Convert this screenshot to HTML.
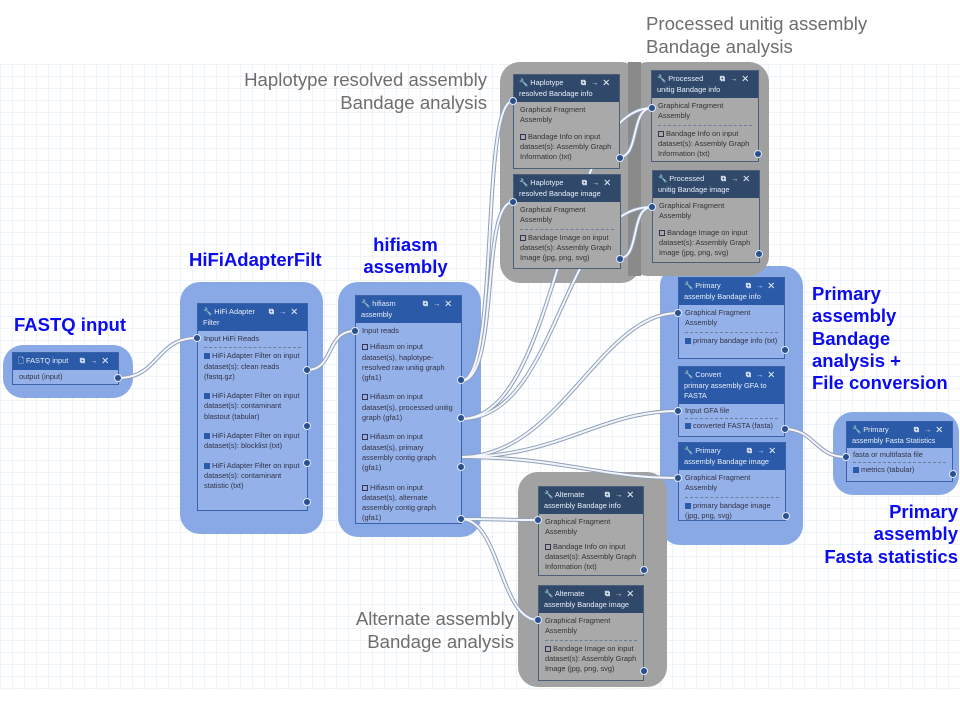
<!DOCTYPE html>
<html><head><meta charset="utf-8"><style>
*{box-sizing:border-box;margin:0;padding:0}
body{width:960px;height:720px;position:relative;overflow:hidden;background:#fff;font-family:"Liberation Sans",sans-serif}
.grid{position:absolute;left:0;top:64px;width:960px;height:626px;background-image:linear-gradient(#eef3fa 1px,transparent 1px),linear-gradient(90deg,#eef3fa 1px,transparent 1px);background-size:12px 12px}
.g{position:absolute;border-radius:20px}
.b{background:#88a8e6}
.gr{background:#a2a2a2}
.n{position:absolute;border:1px solid #3a62a8;font-size:7.4px;line-height:10.3px;color:#334;overflow:hidden}
.n.bn{background:#94b1ea}
.n.gn{background:#a9a9a9;border-color:#4a5f78;color:#333}
.h{color:#e8eef8;padding:3px 5px;font-size:7.4px;line-height:10.5px;position:relative}
.bn .h{background:#2a5aa8}
.gn .h{background:#30496a}
.h .ic{position:absolute;right:5px;top:3px;letter-spacing:5px;font-weight:bold}
.r{padding:2px 6px;position:relative}
.sep{border-top:1px dashed #6a7ea0;margin:1px 6px}
.cb{display:inline-block;width:6px;height:6px;border:1px solid #335;vertical-align:-1px;margin-right:2px}
.cb.on{background:#2a5aa8;border-color:#2a5aa8}
.p{position:absolute;width:8px;height:8px;border-radius:50%;background:#2a4f8f;border:1px solid #dfe8f8}
.lb{position:absolute;color:#0b0bf0;font-weight:bold;font-size:18.5px;line-height:22.3px}
.lg{position:absolute;color:#6e6e6e;font-size:18.6px;line-height:23px}
svg{position:absolute;left:0;top:0}
</style></head><body>
<div class="grid"></div>

<div class="g b" style="left:3px;top:345px;width:130px;height:53px"></div>
<div class="g b" style="left:180px;top:282px;width:143px;height:252px"></div>
<div class="g b" style="left:338px;top:282px;width:143px;height:255px"></div>
<div class="g b" style="left:660px;top:266px;width:143px;height:279px"></div>
<div class="g b" style="left:833px;top:412px;width:126px;height:83px"></div>
<div class="g gr" style="left:500px;top:62px;width:141px;height:221px"></div>
<div class="g gr" style="left:628px;top:62px;width:141px;height:214px;background:#a0a0a0"></div>
<div class="g gr" style="left:628px;top:62px;width:13px;height:214px;background:#8a8a8a;border-radius:0"></div>
<div class="g gr" style="left:518px;top:472px;width:149px;height:215px"></div>

<svg width="960" height="720">
<g fill="none" stroke="#8fa0bb" stroke-width="4">
<path d="M118 378 C160 378 155 338 197 338"/>
<path d="M307 370 C335 370 325 331 355 331"/>
<path d="M461 381 C500 381 480 101 513 101"/>
<path d="M461 381 C500 381 480 202 513 202"/>
<path d="M461 419 C560 419 560 108 652 108"/>
<path d="M461 419 C560 419 560 207 652 207"/>
<path d="M461 457 C560 457 600 313 678 313"/>
<path d="M461 457 C560 457 600 411 678 411"/>
<path d="M461 457 C560 457 600 478 678 478"/>
<path d="M461 519 C500 519 500 520 538 520"/>
<path d="M461 519 C500 519 500 620 538 620"/>
<path d="M784 429 C815 429 815 457 846 457"/>
<path d="M619 157 C640 157 630 108 652 108"/>
<path d="M620 258 C640 258 630 207 652 207"/>
</g>
<g fill="none" stroke="#f4f6fa" stroke-width="2">
<path d="M118 378 C160 378 155 338 197 338"/>
<path d="M307 370 C335 370 325 331 355 331"/>
<path d="M461 381 C500 381 480 101 513 101"/>
<path d="M461 381 C500 381 480 202 513 202"/>
<path d="M461 419 C560 419 560 108 652 108"/>
<path d="M461 419 C560 419 560 207 652 207"/>
<path d="M461 457 C560 457 600 313 678 313"/>
<path d="M461 457 C560 457 600 411 678 411"/>
<path d="M461 457 C560 457 600 478 678 478"/>
<path d="M461 519 C500 519 500 520 538 520"/>
<path d="M461 519 C500 519 500 620 538 620"/>
<path d="M784 429 C815 429 815 457 846 457"/>
<path d="M619 157 C640 157 630 108 652 108"/>
<path d="M620 258 C640 258 630 207 652 207"/>
</g>
</svg>

<!-- FASTQ -->
<div class="n bn" style="left:12px;top:352px;width:107px;height:33px">
<div class="h">🗋 FASTQ input<span class="ic">⧉→✕</span></div>
<div class="r">output (input)</div></div>
<div class="p" style="left:114px;top:374px"></div>

<!-- HiFi -->
<div class="n bn" style="left:197px;top:303px;width:111px;height:208px">
<div class="h">🔧 HiFi Adapter<br>Filter<span class="ic">⧉→✕</span></div>
<div class="r" style="padding-top:3px">Input HiFi Reads</div><div class="sep"></div>
<div class="r"><span class="cb on"></span>HiFi Adapter Filter on input dataset(s): clean reads (fastq.gz)</div>
<div class="r" style="margin-top:5px"><span class="cb on"></span>HiFi Adapter Filter on input dataset(s): contaminant blastout (tabular)</div>
<div class="r" style="margin-top:5px"><span class="cb on"></span>HiFi Adapter Filter on input dataset(s): blocklist (txt)</div>
<div class="r" style="margin-top:5px"><span class="cb on"></span>HiFi Adapter Filter on input dataset(s): contaminant statistic (txt)</div></div>
<div class="p" style="left:193px;top:334px"></div>
<div class="p" style="left:303px;top:366px"></div><div class="p" style="left:303px;top:422px"></div><div class="p" style="left:303px;top:459px"></div><div class="p" style="left:303px;top:498px"></div>

<!-- hifiasm -->
<div class="n bn" style="left:355px;top:295px;width:107px;height:229px">
<div class="h">🔧 hifiasm<br>assembly<span class="ic">⧉→✕</span></div>
<div class="r" style="padding-top:3px">Input reads</div>
<div class="r" style="margin-top:2px"><span class="cb"></span>Hifiasm on input dataset(s), haplotype-resolved raw unitig graph (gfa1)</div>
<div class="r" style="margin-top:5px"><span class="cb"></span>Hifiasm on input dataset(s), processed unitig graph (gfa1)</div>
<div class="r" style="margin-top:5px"><span class="cb"></span>Hifiasm on input dataset(s), primary assembly contig graph (gfa1)</div>
<div class="r" style="margin-top:5px"><span class="cb"></span>Hifiasm on input dataset(s), alternate assembly contig graph (gfa1)</div></div>
<div class="p" style="left:351px;top:327px"></div>
<div class="p" style="left:457px;top:376px"></div><div class="p" style="left:457px;top:414px"></div><div class="p" style="left:457px;top:463px"></div><div class="p" style="left:457px;top:515px"></div>

<!-- Haplotype -->
<div class="n gn" style="left:513px;top:74px;width:107px;height:95px">
<div class="h">🔧 Haplotype<br>resolved Bandage info<span class="ic">⧉→✕</span></div>
<div class="r" style="padding-top:3px">Graphical Fragment Assembly</div>
<div class="r" style="margin-top:2px"><span class="cb"></span>Bandage Info on input dataset(s): Assembly Graph Information (txt)</div></div>
<div class="p" style="left:509px;top:97px"></div><div class="p" style="left:616px;top:154px"></div>
<div class="n gn" style="left:513px;top:174px;width:108px;height:95px">
<div class="h">🔧 Haplotype<br>resolved Bandage image<span class="ic">⧉→✕</span></div>
<div class="r" style="padding-top:3px">Graphical Fragment Assembly</div><div class="sep"></div>
<div class="r"><span class="cb"></span>Bandage Image on input dataset(s): Assembly Graph Image (jpg, png, svg)</div></div>
<div class="p" style="left:509px;top:198px"></div><div class="p" style="left:616px;top:255px"></div>

<!-- Processed -->
<div class="n gn" style="left:651px;top:70px;width:108px;height:92px">
<div class="h">🔧 Processed<br>unitig Bandage info<span class="ic">⧉→✕</span></div>
<div class="r" style="padding-top:3px">Graphical Fragment Assembly</div><div class="sep"></div>
<div class="r"><span class="cb"></span>Bandage Info on input dataset(s): Assembly Graph Information (txt)</div></div>
<div class="p" style="left:648px;top:104px"></div><div class="p" style="left:754px;top:150px"></div>
<div class="n gn" style="left:652px;top:170px;width:108px;height:93px">
<div class="h">🔧 Processed<br>unitig Bandage image<span class="ic">⧉→✕</span></div>
<div class="r" style="padding-top:3px">Graphical Fragment Assembly</div>
<div class="r" style="margin-top:2px"><span class="cb"></span>Bandage Image on input dataset(s): Assembly Graph Image (jpg, png, svg)</div></div>
<div class="p" style="left:648px;top:203px"></div><div class="p" style="left:755px;top:250px"></div>

<!-- Primary -->
<div class="n bn" style="left:678px;top:277px;width:107px;height:82px">
<div class="h">🔧 Primary<br>assembly Bandage info<span class="ic">⧉→✕</span></div>
<div class="r" style="padding-top:3px">Graphical Fragment Assembly</div><div class="sep"></div>
<div class="r"><span class="cb on"></span>primary bandage info (txt)</div></div>
<div class="p" style="left:674px;top:309px"></div><div class="p" style="left:781px;top:346px"></div>
<div class="n bn" style="left:678px;top:366px;width:107px;height:71px">
<div class="h" style="padding-bottom:2px">🔧 Convert<br>primary assembly GFA to<br>FASTA<span class="ic">⧉→✕</span></div>
<div class="r" style="padding-top:2px;padding-bottom:1px">Input GFA file</div><div class="sep"></div>
<div class="r" style="padding-top:1px"><span class="cb on"></span>converted FASTA (fasta)</div></div>
<div class="p" style="left:674px;top:407px"></div><div class="p" style="left:781px;top:425px"></div>
<div class="n bn" style="left:678px;top:442px;width:108px;height:79px">
<div class="h">🔧 Primary<br>assembly Bandage image<span class="ic">⧉→✕</span></div>
<div class="r" style="padding-top:3px">Graphical Fragment Assembly</div><div class="sep"></div>
<div class="r"><span class="cb on"></span>primary bandage image (jpg, png, svg)</div></div>
<div class="p" style="left:674px;top:474px"></div><div class="p" style="left:782px;top:512px"></div>

<!-- Fasta stats -->
<div class="n bn" style="left:846px;top:421px;width:107px;height:61px">
<div class="h" style="padding-bottom:2px">🔧 Primary<br>assembly Fasta Statistics<span class="ic">⧉→✕</span></div>
<div class="r" style="padding-top:2px;padding-bottom:1px">fasta or multifasta file</div><div class="sep"></div>
<div class="r" style="padding-top:1px"><span class="cb on"></span>metrics (tabular)</div></div>
<div class="p" style="left:842px;top:453px"></div><div class="p" style="left:949px;top:470px"></div>

<!-- Alternate -->
<div class="n gn" style="left:538px;top:486px;width:106px;height:90px">
<div class="h">🔧 Alternate<br>assembly Bandage info<span class="ic">⧉→✕</span></div>
<div class="r" style="padding-top:3px">Graphical Fragment Assembly</div>
<div class="r"><span class="cb"></span>Bandage Info on input dataset(s): Assembly Graph Information (txt)</div></div>
<div class="p" style="left:534px;top:516px"></div><div class="p" style="left:640px;top:566px"></div>
<div class="n gn" style="left:538px;top:585px;width:106px;height:96px">
<div class="h">🔧 Alternate<br>assembly Bandage image<span class="ic">⧉→✕</span></div>
<div class="r" style="padding-top:3px">Graphical Fragment Assembly</div><div class="sep"></div>
<div class="r"><span class="cb"></span>Bandage Image on input dataset(s): Assembly Graph Image (jpg, png, svg)</div></div>
<div class="p" style="left:534px;top:616px"></div><div class="p" style="left:640px;top:667px"></div>

<!-- labels -->
<div class="lb" style="left:14px;top:314px">FASTQ input</div>
<div class="lb" style="left:189px;top:249px">HiFiAdapterFilt</div>
<div class="lb" style="left:338px;top:234px;width:135px;text-align:center">hifiasm<br>assembly</div>
<div class="lb" style="left:812px;top:283px">Primary<br>assembly<br>Bandage<br>analysis +<br>File conversion</div>
<div class="lb" style="right:2px;top:501px;text-align:right">Primary<br>assembly<br>Fasta statistics</div>
<div class="lg" style="right:473px;top:68px;text-align:right">Haplotype resolved assembly<br>Bandage analysis</div>
<div class="lg" style="left:646px;top:12px">Processed unitig assembly<br>Bandage analysis</div>
<div class="lg" style="right:446px;top:607px;text-align:right">Alternate assembly<br>Bandage analysis</div>
</body></html>
